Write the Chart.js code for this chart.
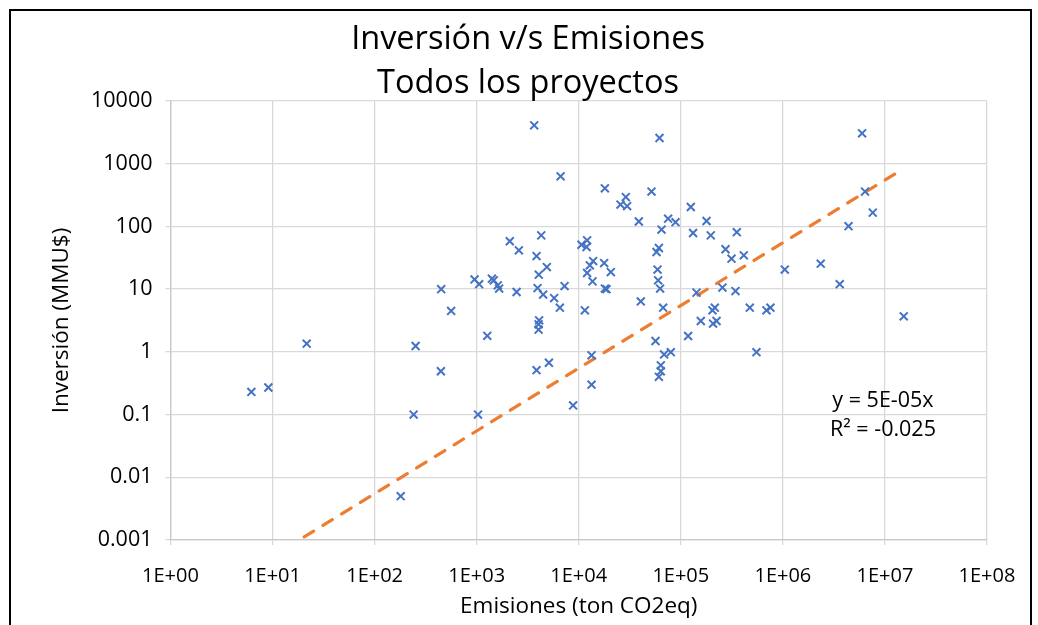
<!DOCTYPE html>
<html>
<head>
<meta charset="utf-8">
<script src="https://cdn.jsdelivr.net/npm/chart.js@4.4.1/dist/chart.umd.min.js"></script>
<style>
html,body{margin:0;padding:0;background:#fff;overflow:hidden}
#wrap{position:relative;width:1038px;height:625px}
#frame{position:absolute;left:9px;top:9px;width:1019px;height:700px;border:2px solid #000;pointer-events:none}
</style>
</head>
<body>
<div id="wrap"><canvas id="c" width="1038" height="625"></canvas><div id="frame"></div></div>
<script>
const titleLines = ['Inversión v/s Emisiones', 'Todos los proyectos'];
const xAxisTitle = 'Emisiones (ton CO2eq)';
const yAxisTitle = 'Inversión (MMU$)';
const xTickLabels = ['1E+00','1E+01','1E+02','1E+03','1E+04','1E+05','1E+06','1E+07','1E+08'];
const yTickLabels = ['0.001','0.01','0.1','1','10','100','1000','10000'];

const emisiones = [
  6.2, 9.1, 21.6, 252, 241, 449, 446, 562, 180, 1030,
  953, 1057, 1410, 1470, 1610, 1660, 1270, 2110, 2590, 2460,
  3660, 4290, 3860, 4870, 4060, 3950, 4480, 5740, 6530, 4090,
  4040, 4040, 3860, 5100, 6640, 7260, 8800, 11480, 10640, 12080,
  11910, 13840, 12850, 17740, 20620, 12080, 13650, 18030, 18700, 13350,
  13350, 18030, 25650, 28910, 29790, 38790, 51640, 61830, 75110, 88760,
  64710, 60950, 57810, 59160, 59980, 62690, 40550, 67100, 56490, 68560,
  79800, 63680, 63680, 60950, 125300, 178600, 131900, 196700, 353700, 274200,
  313800, 414200, 1044000, 142600, 255800, 343300, 474200, 690600, 755400, 215300,
  204400, 157000, 224000, 207000, 117900, 551000, 2350000, 3606000, 4397000, 5970000,
  6383000, 7600000, 15280000
];
const inversion = [
  0.23, 0.27, 1.35, 1.24, 0.1, 10, 0.49, 4.5, 0.005, 0.1,
  14.3, 12, 14.7, 13.8, 11.5, 10.2, 1.8, 58, 41.6, 9.0,
  4090, 72, 33.7, 22.5, 17, 10.4, 8.2, 7.2, 5.07, 3.18,
  2.75, 2.26, 0.51, 0.67, 630, 11.2, 0.14, 4.59, 51, 60,
  47, 28, 24, 26, 18.7, 18.1, 13.3, 10.2, 10, 0.88,
  0.30, 405, 223, 294, 211, 120, 359, 2570, 133, 117,
  89, 45.3, 39.1, 20.5, 13.8, 10.2, 6.38, 5.07, 1.49, 0.91,
  0.99, 0.61, 0.49, 0.40, 204, 122, 78.5, 72, 81, 43.2,
  30.6, 34.6, 20.5, 8.8, 10.6, 9.3, 5.07, 4.59, 5.07, 5.07,
  4.59, 3.1, 3.1, 2.82, 1.79, 0.99, 25.5, 12, 101, 3055,
  359, 166, 3.68
];
const trendX = [6.2, 15280000];
const trendY = [0.00034, 840];
const trendLabel = ['y = 5E-05x', 'R² = -0.025'];

const FONT = '"Open Sans", "Noto Sans", sans-serif';

const textPlugin = {
  id: 'texts',
  afterDraw(chart) {
    const ctx = chart.ctx;
    const a = chart.chartArea;
    ctx.save();
    ctx.fillStyle = '#000';
    ctx.textAlign = 'center';
    ctx.textBaseline = 'middle';
    ctx.font = '32.5px ' + FONT;
    ctx.fillText(titleLines[0], 528, 40);
    ctx.fillText(titleLines[1], 528, 84);
    ctx.font = '21.5px ' + FONT;
    const ex = a.left + (a.right - a.left) * 0.8726;
    ctx.fillText(trendLabel[0], ex, a.top + (a.bottom - a.top) * 0.682);
    ctx.fillText(trendLabel[1], ex, a.top + (a.bottom - a.top) * 0.750);
    ctx.restore();
  }
};

const points = emisiones.map((x, i) => ({ x: x, y: inversion[i] }));
const trend = trendX.map((x, i) => ({ x: x, y: trendY[i] }));

const gridColor = '#d9d9d9';

new Chart(document.getElementById('c'), {
  type: 'scatter',
  data: {
    datasets: [
      {
        type: 'line',
        data: trend,
        borderColor: '#ED7D31',
        borderWidth: 3.2,
        borderDash: [11, 11],
        borderDashOffset: 4,
        borderCapStyle: 'round',
        pointRadius: 0,
        fill: false,
        order: 1
      },
      {
        data: points,
        pointStyle: 'crossRot',
        pointRadius: 5.6,
        pointBorderWidth: 2,
        borderColor: '#4472C4',
        backgroundColor: '#4472C4',
        order: 0
      }
    ]
  },
  options: {
    responsive: false,
    animation: false,
    devicePixelRatio: 1,
    layout: { padding: { top: 101, right: 51, left: 0, bottom: 0 } },
    plugins: { legend: { display: false }, tooltip: { enabled: false }, title: { display: false } },
    scales: {
      x: {
        type: 'logarithmic',
        min: 1, max: 1e8,
        afterBuildTicks: s => { s.ticks = xTickLabels.map(l => ({ value: Number(l) })); },
        afterFit: s => { s.height = 85; },
        ticks: {
          callback: (v, i) => xTickLabels[i],
          font: { family: FONT, size: 20 },
          color: '#000',
          padding: 19,
          maxRotation: 0,
          autoSkip: false
        },
        grid: { color: gridColor, lineWidth: 1.3, tickLength: 5 },
        border: { color: '#c8c8c8', width: 1.3 },
        title: {
          display: true, text: xAxisTitle,
          font: { family: FONT, size: 22.5 }, color: '#000',
          padding: { top: 0, bottom: 5 }
        }
      },
      y: {
        type: 'logarithmic',
        min: 0.001, max: 10000,
        afterBuildTicks: s => { s.ticks = yTickLabels.map(l => ({ value: Number(l) })); },
        afterFit: s => { s.width = 170.5; },
        ticks: {
          callback: (v, i) => yTickLabels[i],
          font: { family: FONT, size: 21.5 },
          color: '#000',
          padding: 13,
          autoSkip: false
        },
        grid: { color: gridColor, lineWidth: 1.3, tickLength: 5 },
        border: { color: '#c8c8c8', width: 1.3 },
        title: {
          display: true, text: yAxisTitle,
          font: { family: FONT, size: 22.5 }, color: '#000',
          padding: { top: 48, bottom: 0 }
        }
      }
    }
  },
  plugins: [textPlugin]
});
</script>
</body>
</html>
